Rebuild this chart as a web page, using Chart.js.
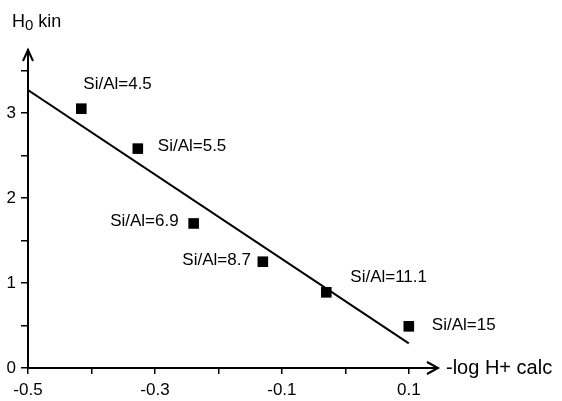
<!DOCTYPE html>
<html>
<head>
<meta charset="utf-8">
<script src="https://cdn.jsdelivr.net/npm/chart.js@4/dist/chart.umd.min.js"></script>
<style>
  html, body { margin: 0; padding: 0; background: #fff; }
  #wrap { width: 562px; height: 401px; }
</style>
</head>
<body>
<div id="wrap"><canvas id="chart"></canvas></div>
<script>
// values
const ratios = ["4.5", "5.5", "6.9", "8.7", "11.1", "15"];
const logH = [-0.416, -0.327, -0.239, -0.130, -0.030, 0.100];
const h0kin = [3.05, 2.58, 1.70, 1.25, 0.89, 0.49];

// fitted straight line
const fitX = [-0.5, 0.1];
const fitY = [3.27, 0.29];

// axes
const xTicks = [-0.5, -0.4, -0.3, -0.2, -0.1, 0, 0.1];
const xLabels = ["-0.5", "", "-0.3", "", "-0.1", "", "0.1"];
const yTicks = [0, 0.5, 1, 1.5, 2, 2.5, 3, 3.5];
const yLabels = ["0", "", "1", "", "2", "", "3", ""];

// where each Si/Al label sits next to its point (dx, dy, align)
const labelPos = [
  [2, -24, "left"],
  [20, -2, "left"],
  [-15, -2, "right"],
  [-12, -1, "right"],
  [24, -15, "left"],
  [23, -1, "left"]
];

const FONT = "Liberation Sans, Arial, sans-serif";

const decorations = {
  id: "decorations",
  afterDraw(chart) {
    const ctx = chart.ctx;
    const xs = chart.scales.x, ys = chart.scales.y;
    const area = chart.chartArea;
    ctx.save();
    ctx.strokeStyle = "#000";
    ctx.fillStyle = "#000";
    ctx.lineWidth = 2;
    // arrow heads
    ctx.beginPath();
    ctx.moveTo(area.right - 11, area.bottom - 6);
    ctx.lineTo(area.right, area.bottom);
    ctx.lineTo(area.right - 11, area.bottom + 6);
    ctx.moveTo(area.left - 5, area.top + 11);
    ctx.lineTo(area.left, area.top);
    ctx.lineTo(area.left + 5, area.top + 11);
    ctx.stroke();

    // point labels
    ctx.font = "17px " + FONT;
    ctx.textBaseline = "middle";
    ratios.forEach((r, i) => {
      const px = xs.getPixelForValue(logH[i]);
      const py = ys.getPixelForValue(h0kin[i]);
      const p = labelPos[i];
      ctx.textAlign = p[2];
      ctx.fillText("Si/Al=" + r, px + p[0], py + p[1]);
    });

    // axis titles
    ctx.textAlign = "left";
    ctx.textBaseline = "alphabetic";
    ctx.font = "18px " + FONT;
    ctx.fillText("H", 12, 27);
    const hw = ctx.measureText("H").width;
    ctx.font = "15px " + FONT;
    ctx.fillText("0", 12 + hw, 30);
    const zw = ctx.measureText("0").width;
    ctx.font = "18px " + FONT;
    ctx.fillText(" kin", 12 + hw + zw, 27);

    ctx.textBaseline = "middle";
    ctx.font = "20px " + FONT;
    ctx.fillText("-log H+ calc", 446, area.bottom);
    ctx.restore();
  }
};

new Chart(document.getElementById("chart"), {
  type: "scatter",
  data: {
    datasets: [
      {
        label: "fit",
        data: fitX.map((x, i) => ({ x: x, y: fitY[i] })),
        showLine: true,
        borderColor: "#000",
        borderWidth: 2,
        pointRadius: 0,
        fill: false
      },
      {
        label: "Si/Al",
        data: logH.map((x, i) => ({ x: x, y: h0kin[i] })),
        pointStyle: "rect",
        pointRadius: 7.5,
        backgroundColor: "#000",
        borderColor: "#000",
        borderWidth: 0
      }
    ]
  },
  options: {
    responsive: true,
    maintainAspectRatio: false,
    animation: false,
    layout: { padding: { top: 50, right: 124, left: 0, bottom: 0 } },
    plugins: {
      legend: { display: false },
      tooltip: { enabled: false }
    },
    scales: {
      x: {
        type: "linear",
        min: -0.5,
        max: 0.146,
        afterBuildTicks: (s) => { s.ticks = xTicks.map(v => ({ value: v })); },
        afterFit: (s) => { s.height = 33; },
        border: { display: true, color: "#000", width: 2 },
        grid: { drawOnChartArea: false, drawTicks: true, tickLength: 6, color: "#000", lineWidth: 1.5 },
        ticks: {
          color: "#000",
          font: { family: FONT, size: 17 },
          padding: 6,
          maxRotation: 0,
          autoSkip: false,
          callback: (v, i) => xLabels[i]
        }
      },
      y: {
        type: "linear",
        min: 0,
        max: 3.74,
        afterBuildTicks: (s) => { s.ticks = yTicks.map(v => ({ value: v })); },
        afterFit: (s) => { s.width = 28; },
        border: { display: true, color: "#000", width: 2 },
        grid: { drawOnChartArea: false, drawTicks: true, tickLength: 7, color: "#000", lineWidth: 1.5 },
        ticks: {
          color: "#000",
          font: { family: FONT, size: 17 },
          padding: 5,
          autoSkip: false,
          callback: (v, i) => yLabels[i]
        }
      }
    }
  },
  plugins: [decorations]
});
</script>
</body>
</html>
